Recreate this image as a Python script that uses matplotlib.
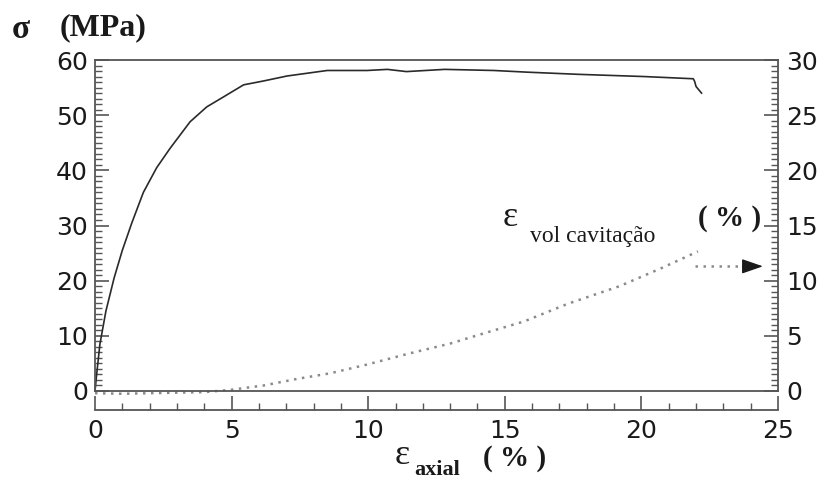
import matplotlib
matplotlib.use('Agg')
import matplotlib.pyplot as plt
from matplotlib.ticker import MultipleLocator

# stress-strain curve (left axis)
axial_strain = [0, 0.06, 0.18, 0.4, 0.7, 1.0, 1.35, 1.77, 2.26, 2.75, 3.48,
                4.09, 4.7, 5.44, 6.17, 7.03, 8.5, 9.96, 10.7, 11.4, 12.8, 14.6,
                15.8, 17.7, 20.1, 21.9, 21.95, 22.0, 22.2]
stress = [0, 3, 8.5, 14.5, 20.5, 25.5, 30.5, 36, 40.5, 44, 48.8, 51.5, 53.3,
          55.5, 56.2, 57.1, 58.1, 58.1, 58.3, 57.9, 58.3, 58.1, 57.8, 57.4,
          57.0, 56.6, 56.1, 55.2, 54]

# volumetric cavitation strain (right axis)
axial_strain_vol = [0, 1, 2, 3, 4, 4.95, 6.17, 7.4, 8.6, 9.96, 11.5, 13.0,
                    14.2, 15.7, 17.3, 19.2, 20.7, 22.07]
vol_strain = [-0.2, -0.25, -0.2, -0.15, -0.1, 0.1, 0.5, 1.1, 1.6, 2.4, 3.4,
              4.3, 5.2, 6.3, 7.9, 9.5, 11.1, 12.65]

x_ticks = [0, 5, 10, 15, 20, 25]
left_ticks = [0, 10, 20, 30, 40, 50, 60]
right_ticks = [0, 5, 10, 15, 20, 25, 30]

W, H = 830, 482
frame_color = '#555555'
text_color = '#1a1a1a'
serif = 'Liberation Serif'


def px(x, y):
    """Pixel position to figure fraction."""
    return x / W, 1 - y / H


def main():
    fig = plt.figure(figsize=(8.3, 4.82), dpi=100)
    ax = fig.add_axes([95 / W, 1 - 391 / H, (778 - 95) / W, (391 - 60) / H])
    ax2 = ax.twinx()

    ax.plot(axial_strain, stress, color='#2a2a2a', lw=1.2, clip_on=False)
    ax2.plot(axial_strain_vol, vol_strain, color='#8a8a8a', lw=1.8,
             ls=(0, (1, 2.2)), clip_on=False)

    # dotted arrow pointing to the right axis
    ax2.plot([21.95, 23.7], [11.3, 11.3], color='#8a8a8a', lw=1.8,
             ls=(0, (1, 2.2)))
    ax2.annotate('', xy=(24.55, 11.3), xytext=(23.6, 11.3),
                 arrowprops=dict(arrowstyle='-|>,head_length=1.3,head_width=0.45',
                                 color=text_color, lw=1.0))

    ax.set_xlim(0, 25)
    ax.set_ylim(0, 60)
    ax2.set_ylim(0, 30)

    for a in (ax, ax2):
        for s in a.spines.values():
            s.set_color(frame_color)
            s.set_linewidth(1.3)
    ax.spines['bottom'].set_position(('outward', 14))
    ax.spines['right'].set_visible(False)
    ax2.spines['left'].set_visible(False)
    ax2.spines['top'].set_visible(False)

    ax.set_xticks(x_ticks)
    ax.set_yticks(left_ticks)
    ax2.set_yticks(right_ticks)
    ax.xaxis.set_minor_locator(MultipleLocator(1))
    ax.yaxis.set_minor_locator(MultipleLocator(1))
    ax2.yaxis.set_minor_locator(MultipleLocator(0.5))

    ax.tick_params(axis='x', which='both', direction='in', colors=frame_color,
                   labelcolor=text_color, pad=6, labelsize=18)
    ax.tick_params(axis='y', which='both', direction='in', colors=frame_color,
                   labelcolor=text_color, pad=5, labelsize=18)
    ax2.tick_params(axis='y', which='both', direction='in', colors=frame_color,
                    labelcolor=text_color, pad=6, labelsize=18)
    for a in (ax, ax2):
        a.tick_params(which='major', length=10, width=1.2)
        a.tick_params(which='minor', length=5, width=1.0)
    for lab in ax.get_xticklabels() + ax.get_yticklabels() + ax2.get_yticklabels():
        lab.set_fontfamily('DejaVu Sans')

    # axis titles
    fig.text(*px(21, 30), 'σ', family=serif, weight='bold', fontsize=24,
             ha='center', va='center', color=text_color)
    fig.text(*px(103, 28), '(MPa)', family=serif, weight='bold', fontsize=23,
             ha='center', va='center', color=text_color)

    fig.text(*px(402, 455), 'ε', family=serif, fontsize=26,
             ha='center', va='center', color=text_color)
    fig.text(*px(437, 470), 'axial', family=serif, weight='bold', fontsize=16,
             ha='center', va='center', color=text_color)
    fig.text(*px(515, 458), '( % )', family=serif, weight='bold', fontsize=21,
             ha='center', va='center', color=text_color)

    fig.text(*px(510, 217), 'ε', family=serif, fontsize=26,
             ha='center', va='center', color=text_color)
    fig.text(*px(593, 236), 'vol cavitação', family=serif, fontsize=17,
             ha='center', va='center', color=text_color)
    fig.text(*px(730, 219), '( % )', family=serif, weight='bold', fontsize=21,
             ha='center', va='center', color=text_color)

    fig.savefig('out.png', dpi=100)


if __name__ == "__main__":
    main()
